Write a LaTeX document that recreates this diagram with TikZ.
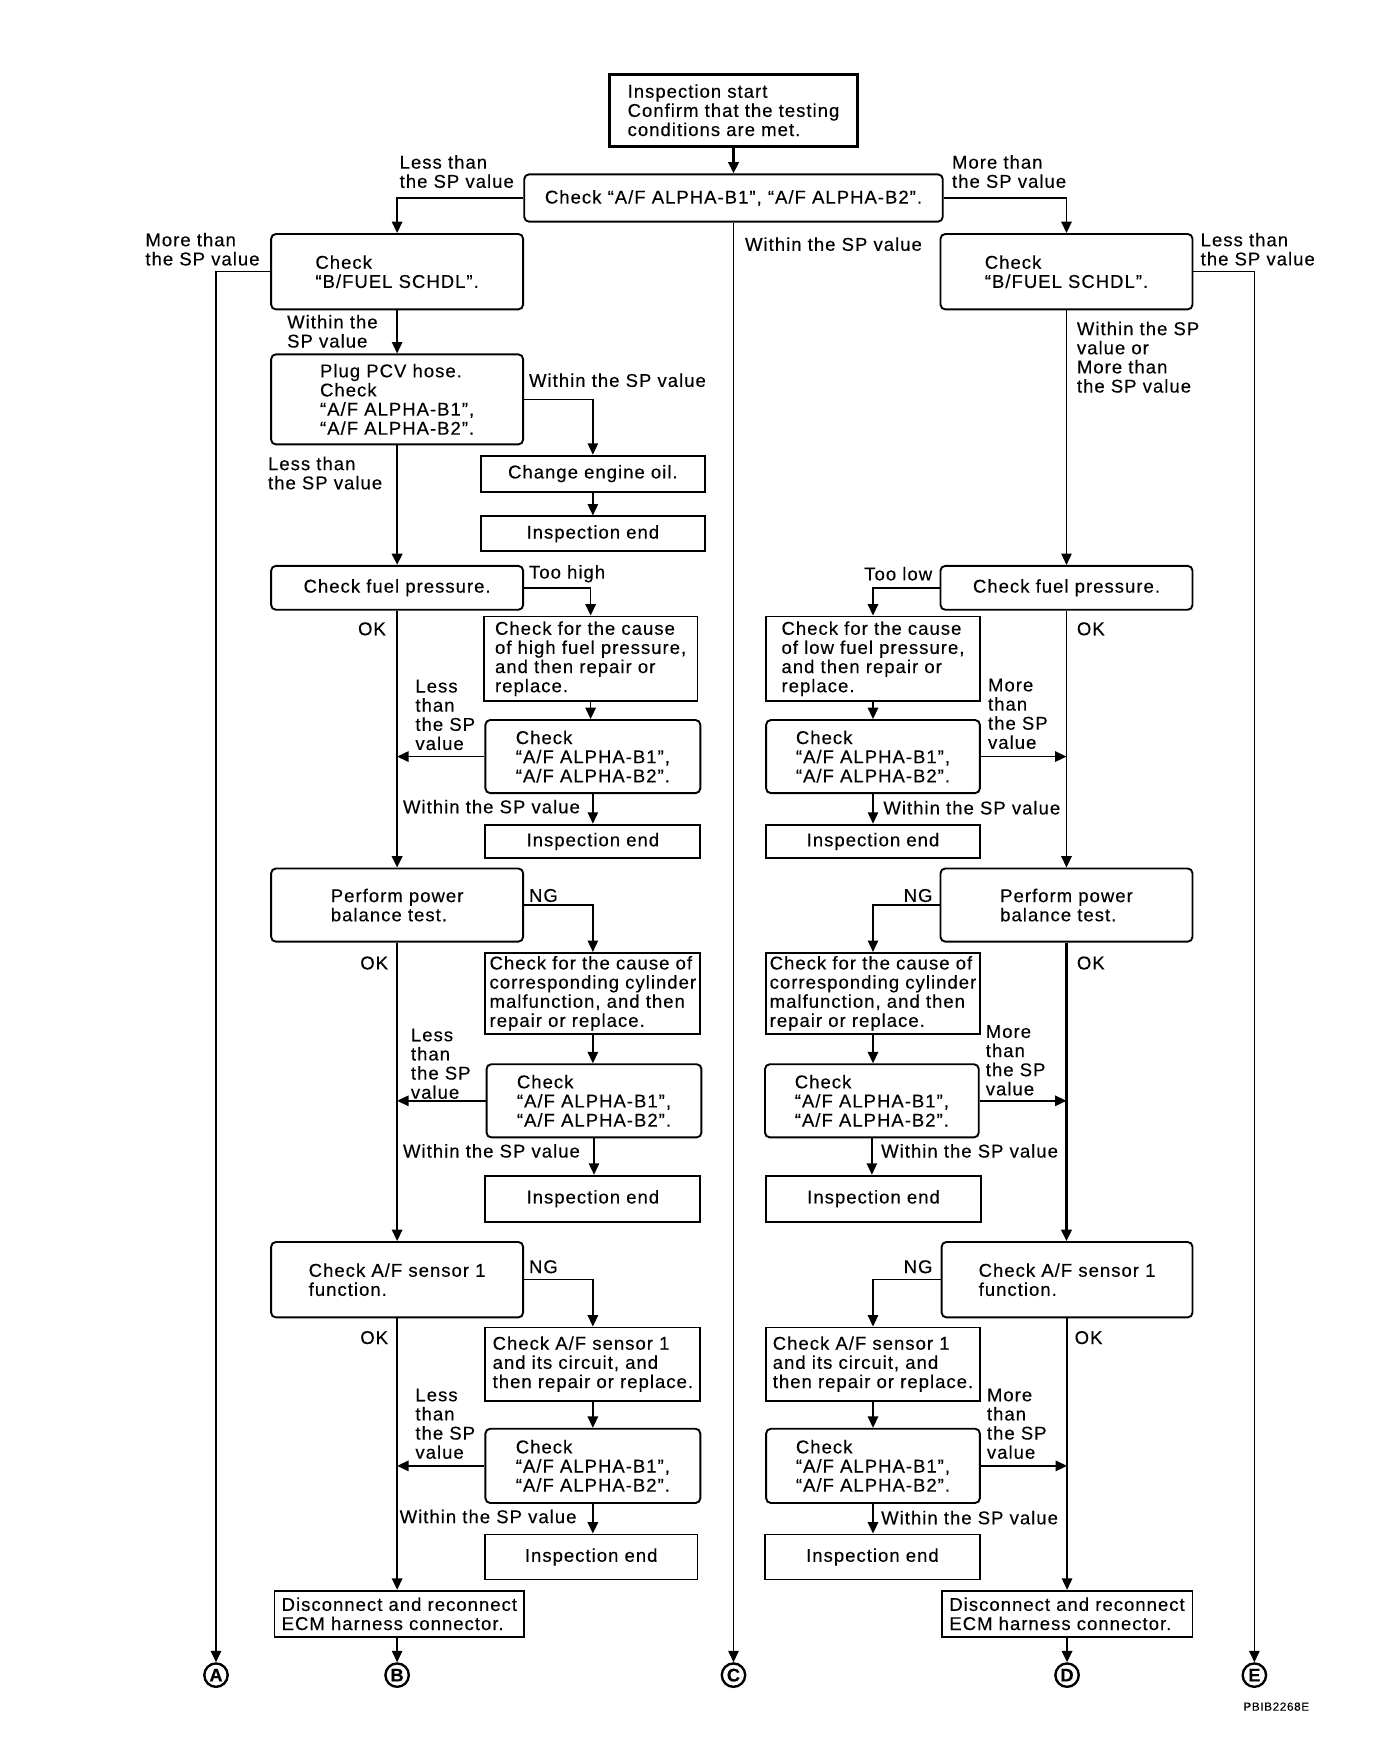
\documentclass[tikz,border=0pt]{standalone}
\usepackage{fontspec}
\setmainfont{Liberation Sans}[LetterSpace=5.5, FakeBold=0.3]
\usetikzlibrary{arrows.meta}
\tikzset{
  flow/.style={line width=0.9pt},
  arr/.style={flow, -{Triangle[length=7.2pt,width=6.6pt]}},
  heavy/.style={line width=1.6pt},
  box/.style 2 args={draw, line width=1.2pt, inner sep=0pt, align=left,
    minimum width=#1*0.025cm, minimum height=#2*0.025cm},
  rbox/.style 2 args={box={#1}{#2}, rounded corners=3pt},
  lbl/.style={anchor=west, inner sep=0pt, align=left},
  conn/.style={draw, circle, line width=1.5pt, inner sep=0pt,
    minimum size=0.52cm, font=\fontsize{11.5}{12}\selectfont\bfseries}
}

\begin{document}
\begin{tikzpicture}[x=0.025cm, y=-0.025cm, font=\fontsize{11.7}{12.1}\selectfont]
  \useasboundingbox (0,0) rectangle (1223,1568);
  % top
  \node[box={220}{64}, line width=1.6pt] (start) at (652,98) {Inspection start\\Confirm that the testing\\conditions are met.};
  \node[rbox={372}{42}] (chk) at (652,176) {Check “A/F ALPHA-B1”, “A/F ALPHA-B2”.};
  \node[rbox={224}{67}] (bfL) at (353,241.5) {Check\\“B/FUEL SCHDL”.};
  \node[rbox={224}{67}] (bfR) at (948,241.5) {Check\\“B/FUEL SCHDL”.};
  %
  % left branch
  \node[rbox={224}{80}] (plug) at (353,355) {Plug PCV hose.\\Check\\“A/F ALPHA-B1”,\\“A/F ALPHA-B2”.};
  \node[box={199}{32}] (oil) at (527,421) {Change engine oil.};
  \node[box={199}{31}] (endO) at (527,474.5) {Inspection end};
  \node[rbox={224}{39}] (fuelL) at (353,522.5) {Check fuel pressure.};
  \node[box={190}{75}] (highL) at (525,585.5) {Check for the cause\\of high fuel pressure,\\and then repair or\\replace.};
  \node[rbox={191}{65}] (chkL1) at (527,672.5) {Check\\“A/F ALPHA-B1”,\\“A/F ALPHA-B2”.};
  \node[box={191}{30}] (endL1) at (527,748) {Inspection end};
  \node[rbox={224}{65}] (powL) at (353,804.5) {Perform power\\balance test.};
  \node[box={191}{72}] (cylL) at (527,883) {Check for the cause of\\corresponding cylinder\\malfunction, and then\\repair or replace.};
  \node[rbox={191}{65}] (chkL2) at (528,978.5) {Check\\“A/F ALPHA-B1”,\\“A/F ALPHA-B2”.};
  \node[box={191}{41}] (endL2) at (527,1065.5) {Inspection end};
  \node[rbox={224}{67}] (senL) at (353,1137.5) {Check A/F sensor 1\\function.};
  \node[box={191}{65}] (cirL) at (527,1212.5) {Check A/F sensor 1\\and its circuit, and\\then repair or replace.};
  \node[rbox={191}{66}] (chkL3) at (527,1303) {Check\\“A/F ALPHA-B1”,\\“A/F ALPHA-B2”.};
  \node[box={189}{40}] (endL3) at (525.5,1384) {Inspection end};
  \node[box={222}{41}] (disL) at (355,1434.5) {Disconnect and reconnect\\ECM harness connector.};
  %
  % right branch
  \node[rbox={224}{39}] (fuelR) at (948,522.5) {Check fuel pressure.};
  \node[box={190}{75}] (lowR) at (776,585.5) {Check for the cause\\of low fuel pressure,\\and then repair or\\replace.};
  \node[rbox={190}{65}] (chkR1) at (776,672.5) {Check\\“A/F ALPHA-B1”,\\“A/F ALPHA-B2”.};
  \node[box={190}{30}] (endR1) at (776,748) {Inspection end};
  \node[rbox={224}{65}] (powR) at (948,804.5) {Perform power\\balance test.};
  \node[box={190}{72}] (cylR) at (776,883) {Check for the cause of\\corresponding cylinder\\malfunction, and then\\repair or replace.};
  \node[rbox={190}{65}] (chkR2) at (775,978.5) {Check\\“A/F ALPHA-B1”,\\“A/F ALPHA-B2”.};
  \node[box={191}{41}] (endR2) at (776.5,1065.5) {Inspection end};
  \node[rbox={223}{67}] (senR) at (948.5,1137.5) {Check A/F sensor 1\\function.};
  \node[box={190}{65}] (cirR) at (776,1212.5) {Check A/F sensor 1\\and its circuit, and\\then repair or replace.};
  \node[rbox={190}{66}] (chkR3) at (776,1303) {Check\\“A/F ALPHA-B1”,\\“A/F ALPHA-B2”.};
  \node[box={191}{40}] (endR3) at (775.5,1384) {Inspection end};
  \node[box={223}{41}] (disR) at (948.5,1434.5) {Disconnect and reconnect\\ECM harness connector.};
  %
  % connectors
  \node[conn] (A) at (192,1489) {A};
  \node[conn] (B) at (353,1489) {B};
  \node[conn] (C) at (652,1489) {C};
  \node[conn] (D) at (948.5,1489) {D};
  \node[conn] (E) at (1115,1489) {E};
  %
  % arrows, top
  \draw[arr, heavy] (start) -- (chk);
  \draw[arr] (chk.west) -| (bfL.north);
  \draw[arr] (chk.east) -| (bfR.north);
  \draw[arr] (chk.south) -- (C.north);
  \draw[arr] (bfL.west) -| (A.north);
  \draw[arr] (bfR.east) -| (E.north);
  % arrows, left
  \draw[arr] (bfL) -- (plug);
  \draw[arr] (plug.east) -| (oil.north);
  \draw[arr] (oil) -- (endO);
  \draw[arr, heavy] (plug) -- (fuelL);
  \draw[arr] (fuelL.east) -| (highL.north);
  \draw[arr] (highL.south) -- (highL.south |- chkL1.north);
  \draw[arr] (chkL1.west) -- (chkL1.west -| fuelL.south);
  \draw[arr] (chkL1.south) -- (chkL1.south |- endL1.north);
  \draw[arr, heavy] (fuelL) -- (powL);
  \draw[arr] (powL.east) -| (cylL.north);
  \draw[arr] (cylL.south) -- (cylL.south |- chkL2.north);
  \draw[arr] (chkL2.west) -- (chkL2.west -| powL.south);
  \draw[arr] (chkL2.south) -- (chkL2.south |- endL2.north);
  \draw[arr] (powL) -- (senL);
  \draw[arr] (senL.east) -| (cirL.north);
  \draw[arr] (cirL.south) -- (cirL.south |- chkL3.north);
  \draw[arr] (chkL3.west) -- (chkL3.west -| senL.south);
  \draw[arr] (chkL3.south) -- (chkL3.south |- endL3.north);
  \draw[arr] (senL.south) -- (senL.south |- disL.north);
  \draw[arr] (senL.south |- disL.south) -- (B);
  % arrows, right
  \draw[arr] (bfR) -- (fuelR);
  \draw[arr] (fuelR.west) -| (lowR.north);
  \draw[arr] (lowR.south) -- (lowR.south |- chkR1.north);
  \draw[arr] (chkR1.east) -- (chkR1.east -| fuelR.south);
  \draw[arr] (chkR1.south) -- (chkR1.south |- endR1.north);
  \draw[arr] (fuelR) -- (powR);
  \draw[arr] (powR.west) -| (cylR.north);
  \draw[arr] (cylR.south) -- (cylR.south |- chkR2.north);
  \draw[arr] (chkR2.east) -- (chkR2.east -| powR.south);
  \draw[arr] (chkR2.south) -- (chkR2.south |- endR2.north);
  \draw[arr, heavy] (powR.south) -- (powR.south |- senR.north);
  \draw[arr] (senR.west) -| (cirR.north);
  \draw[arr] (cirR.south) -- (cirR.south |- chkR3.north);
  \draw[arr] (chkR3.east) -- (chkR3.east -| senR.south);
  \draw[arr] (chkR3.south) -- (chkR3.south |- endR3.north);
  \draw[arr] (senR) -- (disR);
  \draw[arr, heavy] (disR) -- (D);
  %
  % labels
  \node[lbl] (l1) at (355,152.5) {Less than\\the SP value};
  \node[lbl] (l2) at (846,152.5) {More than\\the SP value};
  \node[lbl] (l3) at (662,217) {Within the SP value};
  \node[lbl] (l4) at (129,221.5) {More than\\the SP value};
  \node[lbl] (l5) at (1067,221.5) {Less than\\the SP value};
  \node[lbl] (l6) at (255,294.5) {Within the\\SP value};
  \node[lbl] (l7) at (957,317.5) {Within the SP\\value or\\More than\\the SP value};
  \node[lbl] (l8) at (470,338) {Within the SP value};
  \node[lbl] (l9) at (238,420.5) {Less than\\the SP value};
  \node[lbl] (l10) at (470,510) {Too high};
  \node[lbl] (l11) at (768,510) {Too low};
  \node[lbl] (l12) at (318,559) {OK};
  \node[lbl] (l13) at (957,559) {OK};
  \node[lbl] (l14) at (369,635.5) {Less\\than\\the SP\\value};
  \node[lbl] (l15) at (878,634.5) {More\\than\\the SP\\value};
  \node[lbl] (l16) at (358,717) {Within the SP value};
  \node[lbl] (l17) at (785,718) {Within the SP value};
  \node[lbl] (l18) at (470,796) {NG};
  \node[lbl] (l19) at (803,796) {NG};
  \node[lbl] (l20) at (320,856) {OK};
  \node[lbl] (l21) at (957,856) {OK};
  \node[lbl] (l22) at (365,945.5) {Less\\than\\the SP\\value};
  \node[lbl] (l23) at (876,942.5) {More\\than\\the SP\\value};
  \node[lbl] (l24) at (358,1023) {Within the SP value};
  \node[lbl] (l25) at (783,1023) {Within the SP value};
  \node[lbl] (l26) at (470,1126) {NG};
  \node[lbl] (l27) at (803,1126) {NG};
  \node[lbl] (l28) at (320,1189) {OK};
  \node[lbl] (l29) at (955,1189) {OK};
  \node[lbl] (l30) at (369,1265.5) {Less\\than\\the SP\\value};
  \node[lbl] (l31) at (877,1265.5) {More\\than\\the SP\\value};
  \node[lbl] (l32) at (355,1348) {Within the SP value};
  \node[lbl] (l33) at (783,1349) {Within the SP value};
  \node[lbl, font=\fontsize{7.4}{8}\selectfont] (code) at (1105,1517) {PBIB2268E};
\end{tikzpicture}
\end{document}
